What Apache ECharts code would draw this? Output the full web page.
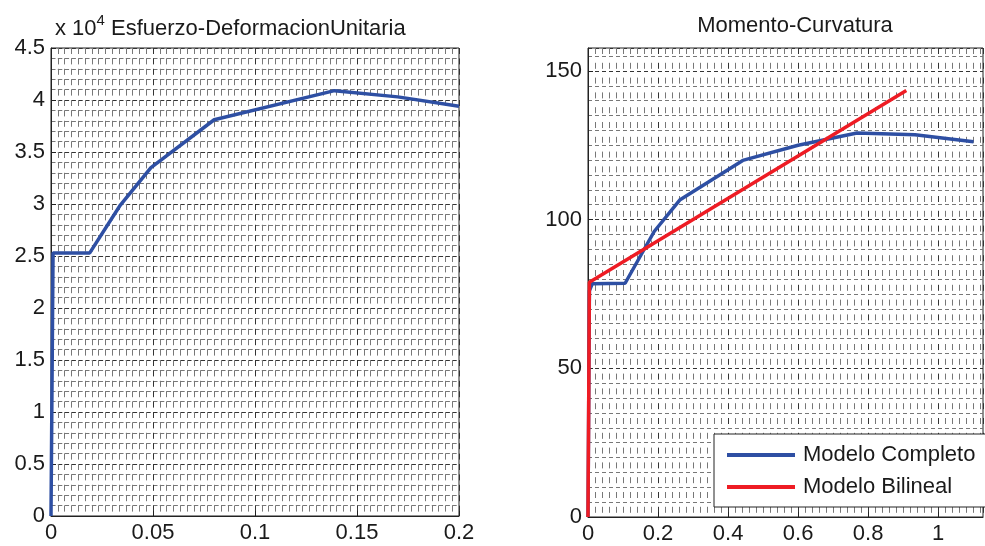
<!DOCTYPE html>
<html>
<head>
<meta charset="utf-8">
<script src="https://cdn.jsdelivr.net/npm/echarts@6/dist/echarts.min.js"></script>
<style>
  html, body { margin: 0; padding: 0; background: #fff; }
  #container { width: 985px; height: 546px; }
</style>
</head>
<body>
<div id="container"></div>
<script>
    // esfuerzo (x 10^4) vs deformacion unitaria
    var strainX = [0, 0.001, 0.019, 0.034, 0.049, 0.08, 0.139, 0.17, 0.2];
    var stressY = [0, 2.53, 2.53, 2.99, 3.35, 3.81, 4.09, 4.03, 3.94];

    // momento vs curvatura
    var curvX = [0, 0.004, 0.012, 0.106, 0.189, 0.263, 0.442, 0.6, 0.768, 0.934, 1.101];
    var momentY = [0, 76, 78.4, 78.6, 96, 106.7, 119.9, 125, 129.1, 128.5, 126.2];
    var bilinX = [0, 0.004, 0.909];
    var bilinY = [0, 78.9, 143.4];

    var leftTicks = { min: 0, max: 0.2, interval: 0.05 };
    var rightTicks = { min: 0, max: 1.128, interval: 0.2 };

    function pairs(xs, ys) {
        return xs.map(function (x, i) { return [x, ys[i]]; });
    }

    var font = '"Liberation Sans", Arial, sans-serif';
    var txt = '#1a1a1a';

    // dotted grid, dash lengths roughly follow the cell size of the other axis
    function valueAxis(idx, min, max, interval, minorN, dash, labelMax) {
        return {
            type: 'value',
            gridIndex: idx,
            min: min,
            max: max,
            interval: interval,
            axisLine: { show: true, lineStyle: { color: '#222', width: 1 } },
            axisTick: { show: true, inside: true, length: 5, lineStyle: { color: '#222' } },
            axisLabel: { fontFamily: font, fontSize: 22, color: txt, showMaxLabel: labelMax, margin: 6 },
            splitLine: { show: true, lineStyle: { color: '#333', width: 1, type: dash } },
            minorTick: { show: false, splitNumber: minorN },
            minorSplitLine: { show: true, lineStyle: { color: '#777', width: 1, type: dash } }
        };
    }

    var dom = document.getElementById('container');
    var myChart = echarts.init(dom, null, { renderer: 'canvas' });

    var option = {
        backgroundColor: '#fff',
        animation: false,
        title: [{
            text: 'x 10{sup|4} Esfuerzo-DeformacionUnitaria',
            left: 50,
            top: 8,
            textStyle: {
                fontFamily: font, fontSize: 22, fontWeight: 'normal', color: txt,
                rich: { sup: { fontFamily: font, fontSize: 15, color: txt, verticalAlign: 'top', padding: [0, 0, 16, 0] } }
            }
        }, {
            text: 'Momento-Curvatura',
            left: 790,
            textAlign: 'center',
            top: 10,
            textStyle: { fontFamily: font, fontSize: 22, fontWeight: 'normal', color: txt }
        }],
        legend: {
            data: ['Modelo Completo', 'Modelo Bilineal'],
            orient: 'vertical',
            left: 714,
            top: 434,
            padding: [10, 11, 9, 13],
            itemGap: 10,
            icon: 'rect',
            itemWidth: 68,
            itemHeight: 4,
            backgroundColor: '#fff',
            borderColor: '#222',
            borderWidth: 1,
            borderRadius: 0,
            textStyle: { fontFamily: font, fontSize: 22, color: txt, padding: [0, 0, 0, 3] }
        },
        grid: [
            { left: 51, top: 48, width: 408, height: 468, show: true, borderColor: '#222', borderWidth: 1 },
            { left: 588, top: 48, width: 395, height: 469, show: true, borderColor: '#222', borderWidth: 1 }
        ],
        xAxis: [
            valueAxis(0, leftTicks.min, leftTicks.max, leftTicks.interval, 15, [6, 4.4], true),
            valueAxis(1, rightTicks.min, rightTicks.max, rightTicks.interval, 10, [6, 8.8], false)
        ],
        yAxis: [
            valueAxis(0, 0, 4.5, 0.5, 5, [4.5, 2.3], true),
            valueAxis(1, 0, 157.7, 50, 10, [4, 3], false)
        ],
        series: [{
            type: 'line',
            xAxisIndex: 0,
            yAxisIndex: 0,
            symbol: 'none',
            data: pairs(strainX, stressY),
            lineStyle: { color: '#2e4fa3', width: 3.5 },
            itemStyle: { color: '#2e4fa3' }
        }, {
            name: 'Modelo Completo',
            type: 'line',
            xAxisIndex: 1,
            yAxisIndex: 1,
            symbol: 'none',
            data: pairs(curvX, momentY),
            lineStyle: { color: '#2e4fa3', width: 3.5 },
            itemStyle: { color: '#2e4fa3' }
        }, {
            name: 'Modelo Bilineal',
            type: 'line',
            xAxisIndex: 1,
            yAxisIndex: 1,
            symbol: 'none',
            data: pairs(bilinX, bilinY),
            lineStyle: { color: '#ee1c24', width: 3.5 },
            itemStyle: { color: '#ee1c24' }
        }]
    };

    myChart.setOption(option);
</script>
</body>
</html>
